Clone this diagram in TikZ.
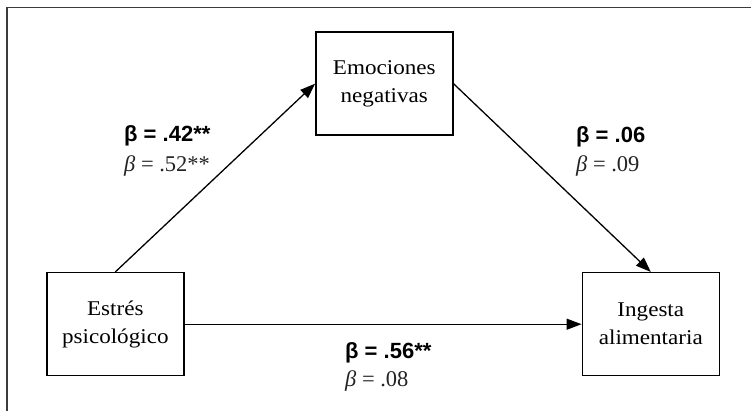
\documentclass[tikz,border=0pt]{standalone}
\usepackage{fontspec}
\setmainfont{Liberation Serif}
\newfontfamily\boxfont{Liberation Serif}[FakeStretch=1.1]
\newfontfamily\labsans{Liberation Sans}
\usetikzlibrary{arrows.meta}
\definecolor{framegray}{RGB}{60,60,60}
\definecolor{labgray}{RGB}{35,35,35}
\tikzset{
  varbox/.style={draw=black, line width=1.5pt, minimum width=137pt, minimum height=103pt,
    inner sep=0pt, align=center, font=\boxfont\fontsize{21}{28}\selectfont, text=black},
  path/.style={draw=black, line width=1.3pt, -{Triangle[length=15pt,width=11pt]}},
  boldlab/.style={anchor=base west, inner sep=0pt, font=\labsans\bfseries\fontsize{22}{24}\selectfont},
  seriflab/.style={anchor=base west, inner sep=0pt, font=\fontsize{22.5}{24}\selectfont, text=labgray}
}
\begin{document}
\begin{tikzpicture}[x=1pt,y=-1pt]
\useasboundingbox (0,0) rectangle (751,411);
\draw[framegray, line width=1.5pt] (6.8,412) -- (6.8,7.3) -- (752,7.3);

\node[varbox] (emo) at (384.3,83.7) {Emociones\\negativas};
\node[varbox] (est) at (115.3,324.2) {Estrés\\psicológico};
\node[varbox] (ing) at (650.8,324.2) {Ingesta\\alimentaria};

\draw[path] (est.north) -- (emo.west);
\draw[path] (emo.east) -- (ing.north);
\draw[path] (est.east) -- (ing.west);

\node[boldlab] (b1) at (124,142) {β = .42**};
\node[seriflab] (s1) at (124,172) {\textit{β} = .52**};
\node[boldlab] (b2) at (576,142.5) {β = .06};
\node[seriflab] (s2) at (576,172) {\textit{β} = .09};
\node[boldlab] (b3) at (345,358) {β = .56**};
\node[seriflab] (s3) at (345,386) {\textit{β} = .08};
\end{tikzpicture}
\end{document}
